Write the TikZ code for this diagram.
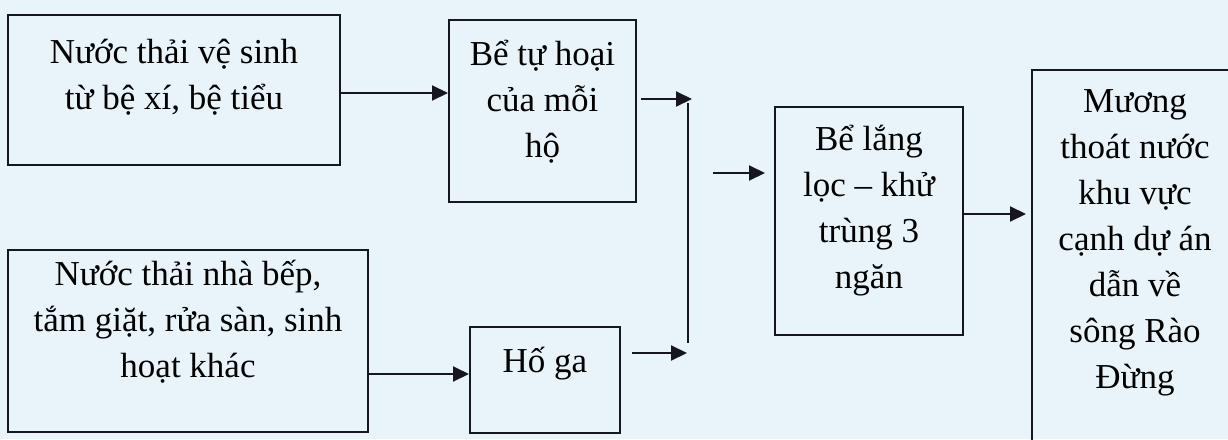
\documentclass[tikz,border=0pt]{standalone}
\usepackage{fontspec}
\setmainfont{Liberation Serif}
\usetikzlibrary{arrows.meta}
\definecolor{paper}{RGB}{233,244,250}
\definecolor{ink}{RGB}{22,22,32}
\newcommand{\mystrut}{\rule{0pt}{36pt}}
\begin{document}
\begin{tikzpicture}[x=1pt,y=-1pt,
  box/.style={draw=ink, line width=2pt, inner sep=0pt, rectangle},
  txt/.style={anchor=north, align=center, inner sep=0pt,
              font=\fontsize{35}{46}\selectfont, text=black},
  arr/.style={draw=ink, line width=2pt, -{Triangle[length=16pt,width=15pt]}},
  ln/.style={draw=ink, line width=2pt}]
\useasboundingbox[fill=paper] (0,0) rectangle (1228,439);

% boxes
\node[box, minimum width=332pt, minimum height=150pt] (a) at (174,90) {};
\node[box, minimum width=187pt, minimum height=182pt] (b) at (542.5,111) {};
\node[box, minimum width=360pt, minimum height=182pt] (c) at (188,341) {};
\node[box, minimum width=150pt, minimum height=106pt] (d) at (545,380) {};
\node[box, minimum width=188pt, minimum height=228pt] (e) at (869,221) {};
\node[box, minimum width=208pt, minimum height=400pt] (f) at (1136,270) {};

% texts
\node[txt] (ta) at (174,27) {\mystrut Nước thải vệ sinh\\từ bệ xí, bệ tiểu};
\node[txt] (tb) at (542.5,29) {\mystrut Bể tự hoại\\của mỗi\\hộ};
\node[txt] (tc) at (188,249) {\mystrut Nước thải nhà bếp,\\tắm giặt, rửa sàn, sinh\\hoạt khác};
\node[txt] (td) at (545,336) {\mystrut Hố ga};
\node[txt] (te) at (869,114) {\mystrut Bể lắng\\lọc – khử\\trùng 3\\ngăn};
\node[txt] (tf) at (1135,76) {\mystrut Mương\\thoát nước\\khu vực\\cạnh dự án\\dẫn về\\sông Rào\\Đừng};

% junction points
\coordinate (j1) at (692,99);
\coordinate (j2) at (687,353);
\coordinate (v1) at (688,103);
\coordinate (v2) at (688,343);
\coordinate (ein) at (713,173);

% connectors
\draw[arr] ([yshift=-3pt]a.east) -- ([yshift=-3pt]a.east -| b.west);
\draw[arr] (c.east |- 0,374) -- (d.west |- 0,374);
\draw[arr] ([xshift=4pt]b.east |- j1) -- (j1);
\draw[arr] ([xshift=11pt]d.east |- j2) -- (j2);
\draw[ln] (v1) -- (v2);
\draw[arr, shorten >=9pt] (ein) -- (ein -| e.west);
\draw[arr, shorten >=5pt] (e.east |- 0,214) -- (f.west |- 0,214);
\end{tikzpicture}
\end{document}
